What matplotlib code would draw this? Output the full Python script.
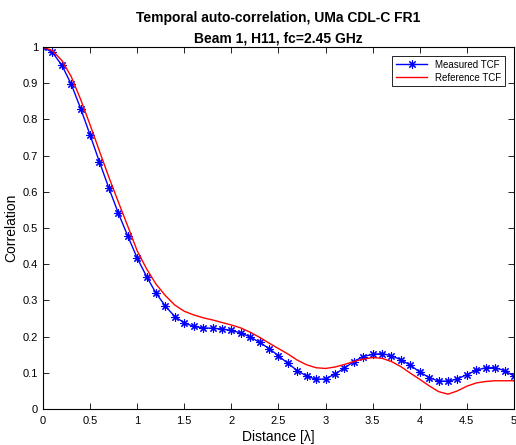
import numpy as np
import matplotlib
matplotlib.use("Agg")
import matplotlib.pyplot as plt

plt.rcParams['font.family'] = ['Liberation Sans', 'DejaVu Sans']

# distance grid in wavelengths
dist = np.round(np.arange(0, 5.01, 0.1), 1)

measured_tcf = [1.000, 0.985, 0.950, 0.897, 0.830, 0.757, 0.682, 0.610, 0.541, 0.478,
                0.417, 0.366, 0.320, 0.284, 0.255, 0.238, 0.228, 0.224, 0.223, 0.221,
                0.217, 0.210, 0.199, 0.184, 0.167, 0.147, 0.126, 0.106, 0.091, 0.082,
                0.083, 0.097, 0.113, 0.131, 0.145, 0.151, 0.153, 0.147, 0.136, 0.121,
                0.102, 0.087, 0.077, 0.077, 0.083, 0.095, 0.107, 0.114, 0.114, 0.106,
                0.091]

reference_tcf = [1.000, 0.990, 0.963, 0.918, 0.855, 0.785, 0.712, 0.640, 0.572, 0.505,
                 0.437, 0.387, 0.345, 0.313, 0.287, 0.270, 0.260, 0.252, 0.246, 0.239,
                 0.232, 0.224, 0.212, 0.198, 0.182, 0.167, 0.152, 0.135, 0.122, 0.114,
                 0.112, 0.116, 0.123, 0.131, 0.138, 0.142, 0.140, 0.131, 0.117, 0.099,
                 0.082, 0.064, 0.048, 0.041, 0.050, 0.063, 0.072, 0.076, 0.078, 0.078,
                 0.078]

fig = plt.figure(figsize=(5.16, 4.45), dpi=100)
ax = fig.add_axes([0.0833, 0.0809, 0.9127, 0.8135])

# asterisk marker: 8 spokes like a + and x on top of each other
ax.plot(dist, measured_tcf, color='blue', marker=(8, 2, 0), markersize=6,
        markeredgewidth=0.8, linewidth=1, label='Measured TCF')
ax.plot(dist, reference_tcf, color='red', linewidth=1, label='Reference TCF')

ax.set_xlim(0, 5)
ax.set_ylim(0, 1)
ax.set_xticks(np.arange(0, 5.01, 0.5))
ax.set_xticklabels(['0', '0.5', '1', '1.5', '2', '2.5', '3', '3.5', '4', '4.5', '5'])
ax.set_yticks(np.arange(0, 1.01, 0.1))
ax.set_yticklabels(['0', '0.1', '0.2', '0.3', '0.4', '0.5', '0.6', '0.7', '0.8', '0.9', '1'])
ax.tick_params(direction='in', top=True, right=True, labelsize=8, length=4, width=0.6)
ax.tick_params(axis='x', pad=5)
for s in ax.spines.values():
    s.set_linewidth(0.8)

ax.set_xlabel('Distance [λ]', fontsize=10, labelpad=3)
ax.set_ylabel('Correlation', fontsize=10, labelpad=3)
ax.set_title('Temporal auto-correlation, UMa CDL-C FR1\nBeam 1, H11, fc=2.45 GHz',
             fontsize=10, fontweight='bold', linespacing=1.6, pad=3)

leg = ax.legend(loc='upper right', fontsize=7, fancybox=False, framealpha=1,
                edgecolor='black', borderaxespad=0.9, handlelength=3.2,
                labelspacing=0.3, borderpad=0.4)
leg.get_frame().set_linewidth(0.6)

fig.savefig('out.png', dpi=100)
